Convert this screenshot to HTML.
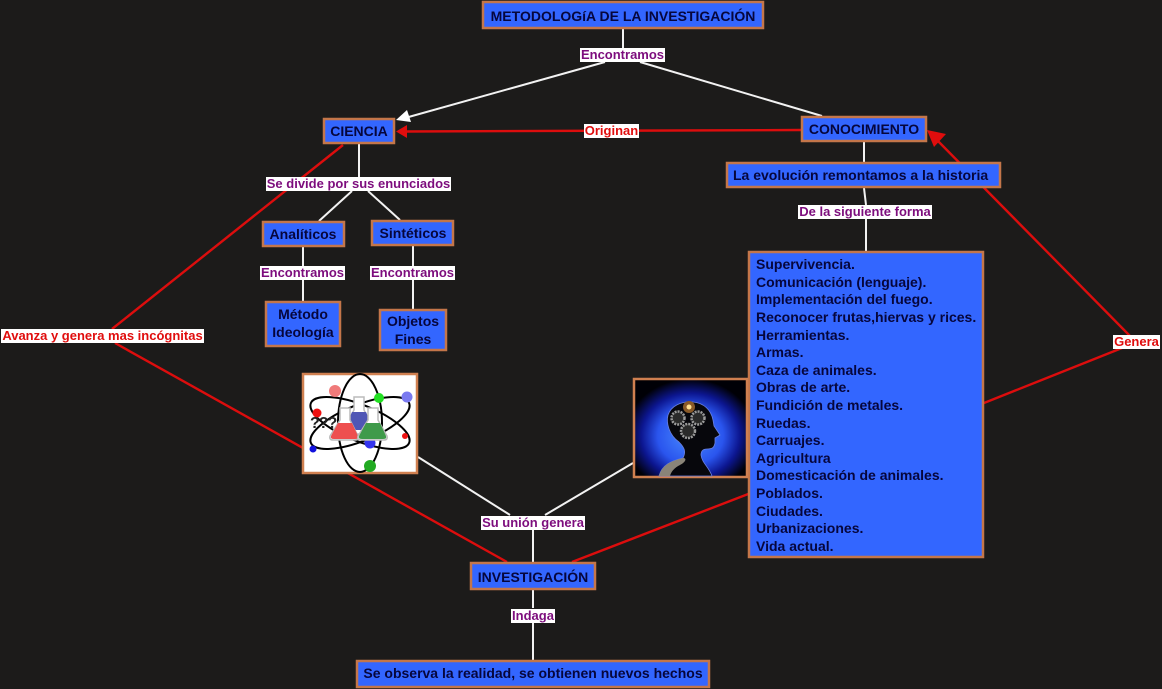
<!DOCTYPE html>
<html lang="es">
<head>
<meta charset="utf-8">
<title>Metodología de la investigación</title>
<style>
html,body{margin:0;padding:0;background:#1c1b1a}
svg{display:block}
text{font-family:"Liberation Sans",sans-serif;font-weight:bold}
.b{fill:#3366ff;stroke:#c4764a;stroke-width:2.500}
.t{font-size:14px;fill:#06063c;text-anchor:middle}
.l{font-size:14px;fill:#06063c}
.w{stroke:#f2f2f2;stroke-width:2;fill:none}
.r{stroke:#dc0d0d;stroke-width:2.400;fill:none}
.lp{font-size:13px;fill:#7d0d7d;text-anchor:middle}
.lr{font-size:13px;fill:#e00d0d;text-anchor:middle}
.bg{fill:#fff}
.g{fill:#fff;stroke:#bbb;stroke-width:1.500}
</style>
</head>
<body>
<svg width="1162" height="689" viewBox="0 0 1162 689" xmlns="http://www.w3.org/2000/svg">
<defs>
<radialGradient id="halo" cx="50%" cy="58%" r="58%">
<stop offset="0" stop-color="#4a8cff"/><stop offset=".5" stop-color="#2a55ee"/><stop offset=".75" stop-color="#0c1690"/><stop offset="1" stop-color="#000006"/>
</radialGradient>
</defs>
<rect width="1162" height="689" fill="#1c1b1a"/>

<!-- white connectors -->
<path class="w" d="M623 29V48M605 62L405 118M640 62L822 116M359 144V177M352 191L319 221M368 191L400 220M303 247V266M303 280V301M413 246V266M413 280V309M864 142V162M864 188L866 205M866 219V251M418 457L510 515M633 463L545 515M533 530V562M533 590V608M533 622V660"/>
<polygon points="396,120 407,110 411,122" fill="#fff"/>

<!-- red connectors -->
<path class="r" d="M343 145L112 329M115 343L507 562M572 562L984 403L1122 348M1130 336L935 138M801 130L405 131.500"/>
<polygon points="396,131.500 407,125 407,138" fill="#e00d0d"/>
<polygon points="927,130 946,134 934,147" fill="#e00d0d"/>

<!-- boxes -->
<rect class="b" x="483" y="2" width="280" height="26"/>
<text class="t" x="623" y="21">METODOLOGíA DE LA INVESTIGACIÓN</text>
<rect class="b" x="324" y="119" width="70" height="24"/>
<text class="t" x="359" y="136">CIENCIA</text>
<rect class="b" x="802" y="117" width="124" height="24"/>
<text class="t" x="864" y="134">CONOCIMIENTO</text>
<rect class="b" x="727" y="163" width="273" height="24"/>
<text class="l" x="733" y="180">La evolución remontamos a la historia</text>
<rect class="b" x="263" y="222" width="81" height="24"/>
<text class="t" x="303" y="239">Analíticos</text>
<rect class="b" x="372" y="221" width="81" height="24"/>
<text class="t" x="413" y="238">Sintéticos</text>
<rect class="b" x="266" y="302" width="74" height="44"/>
<text class="t" x="303" y="319">Método</text>
<text class="t" x="303" y="337">Ideología</text>
<rect class="b" x="380" y="310" width="66" height="40"/>
<text class="t" x="413" y="326">Objetos</text>
<text class="t" x="413" y="344">Fines</text>

<rect class="b" x="749" y="252" width="234" height="305"/>
<g>
<text class="l" x="756" y="269">Supervivencia.</text>
<text class="l" x="756" y="287">Comunicación (lenguaje).</text>
<text class="l" x="756" y="304">Implementación del fuego.</text>
<text class="l" x="756" y="322">Reconocer frutas,hiervas y rices.</text>
<text class="l" x="756" y="340">Herramientas.</text>
<text class="l" x="756" y="357">Armas.</text>
<text class="l" x="756" y="375">Caza de animales.</text>
<text class="l" x="756" y="392">Obras de arte.</text>
<text class="l" x="756" y="410">Fundición de metales.</text>
<text class="l" x="756" y="428">Ruedas.</text>
<text class="l" x="756" y="445">Carruajes.</text>
<text class="l" x="756" y="463">Agricultura</text>
<text class="l" x="756" y="480">Domesticación de animales.</text>
<text class="l" x="756" y="498">Poblados.</text>
<text class="l" x="756" y="516">Ciudades.</text>
<text class="l" x="756" y="533">Urbanizaciones.</text>
<text class="l" x="756" y="551">Vida actual.</text>
</g>

<rect class="b" x="471" y="563" width="124" height="26"/>
<text class="t" x="533" y="582">INVESTIGACIÓN</text>
<rect class="b" x="357" y="661" width="352" height="26"/>
<text class="t" x="533" y="678">Se observa la realidad, se obtienen nuevos hechos</text>

<!-- atom image -->
<rect x="303" y="374" width="114" height="99" fill="#fff" stroke="#d08050" stroke-width="2.500"/>
<g fill="none" stroke="#000" stroke-width="2">
<ellipse cx="360" cy="423" rx="22" ry="49"/>
<ellipse cx="360" cy="423" rx="53" ry="18" transform="rotate(22 360 423)"/>
<ellipse cx="360" cy="423" rx="53" ry="18" transform="rotate(-22 360 423)"/>
</g>
<circle cx="370" cy="443" r="5.500" fill="#3333ee"/>
<circle cx="335" cy="391" r="6" fill="#f07a7a"/>
<circle cx="379" cy="398" r="5" fill="#22e022"/>
<circle cx="407" cy="397" r="5.500" fill="#7a7af0"/>
<circle cx="317" cy="413" r="4.500" fill="#ee1111"/>
<circle cx="405" cy="436" r="3" fill="#ee1111"/>
<circle cx="313" cy="449" r="3.500" fill="#1111dd"/>
<circle cx="370" cy="466" r="6" fill="#22aa22"/>
<!-- flasks -->
<path class="g" d="M354 397h10v13l10 19q1 5-4 5h-22q-5 0-4-5l10-19z"/>
<path d="M352 412h14l8 18h-30z" fill="#4f56b5"/>
<path class="g" d="M340 408h10v12l8 16q1 4-3 4h-22q-4 0-3-4l10-16z"/>
<path d="M338 423h14l6 13q1 3-3 3h-21q-4 0-3-3z" fill="#ee4f4f"/>
<path class="g" d="M368 408h10v12l9 16q1 4-3 4h-23q-4 0-3-4l10-16z"/>
<path d="M366 423h14l6 13q1 3-3 3h-21q-4 0-3-3z" fill="#3f9a4a"/>
<text x="310" y="428" font-size="16" fill="#222" letter-spacing="-1">???</text>

<!-- head image -->
<rect x="634" y="379" width="113" height="98" fill="url(#halo)" stroke="#d08050" stroke-width="2.500"/>
<path d="M659 476c3-11 12-15 24-18 3-6 2-10-4-16-10-7-13-19-11-27 3-9 13-14 25-13 11 1 18 8 20 18l1 6 6 9-5 3 0 5c-1 5-3 6-8 6-4 0-6 2-6 6 1 8 8 12 11 21z" fill="#07070c" stroke="#6a80e0" stroke-width=".8"/>
<path d="M659 476c3-11 12-15 24-18 4 0 3 4-3 7-6 3-9 7-10 11z" fill="#8a8478"/>
<g fill="#2a2a2a" stroke="#9a9a9a" stroke-width="2.500" stroke-dasharray="2 1">
<circle cx="678" cy="418" r="6.500"/>
<circle cx="698" cy="418" r="6.500"/>
<circle cx="688" cy="431" r="7"/>
</g>
<circle cx="689" cy="407" r="6" fill="#8a5a28"/>
<circle cx="689" cy="407" r="2.500" fill="#ffe090"/>

<!-- connector labels -->
<rect class="bg" x="580" y="48" width="85" height="14"/><text class="lp" x="622.500" y="59">Encontramos</text>
<rect class="bg" x="584" y="124" width="55" height="14"/><text class="lr" x="611.500" y="135">Originan</text>
<rect class="bg" x="266" y="177" width="185" height="14"/><text class="lp" x="358.500" y="188">Se divide por sus enunciados</text>
<rect class="bg" x="798" y="205" width="134" height="14"/><text class="lp" x="865" y="216">De la siguiente forma</text>
<rect class="bg" x="260" y="266" width="85" height="14"/><text class="lp" x="302.500" y="277">Encontramos</text>
<rect class="bg" x="370" y="266" width="85" height="14"/><text class="lp" x="412.500" y="277">Encontramos</text>
<rect class="bg" x="1" y="329" width="203" height="14"/><text class="lr" x="102.500" y="340">Avanza y genera mas incógnitas</text>
<rect class="bg" x="1113" y="335" width="47" height="14"/><text class="lr" x="1136.500" y="346">Genera</text>
<rect class="bg" x="481" y="516" width="104" height="14"/><text class="lp" x="533" y="527">Su unión genera</text>
<rect class="bg" x="511" y="609" width="44" height="14"/><text class="lp" x="533" y="620">Indaga</text>
</svg>
</body>
</html>
